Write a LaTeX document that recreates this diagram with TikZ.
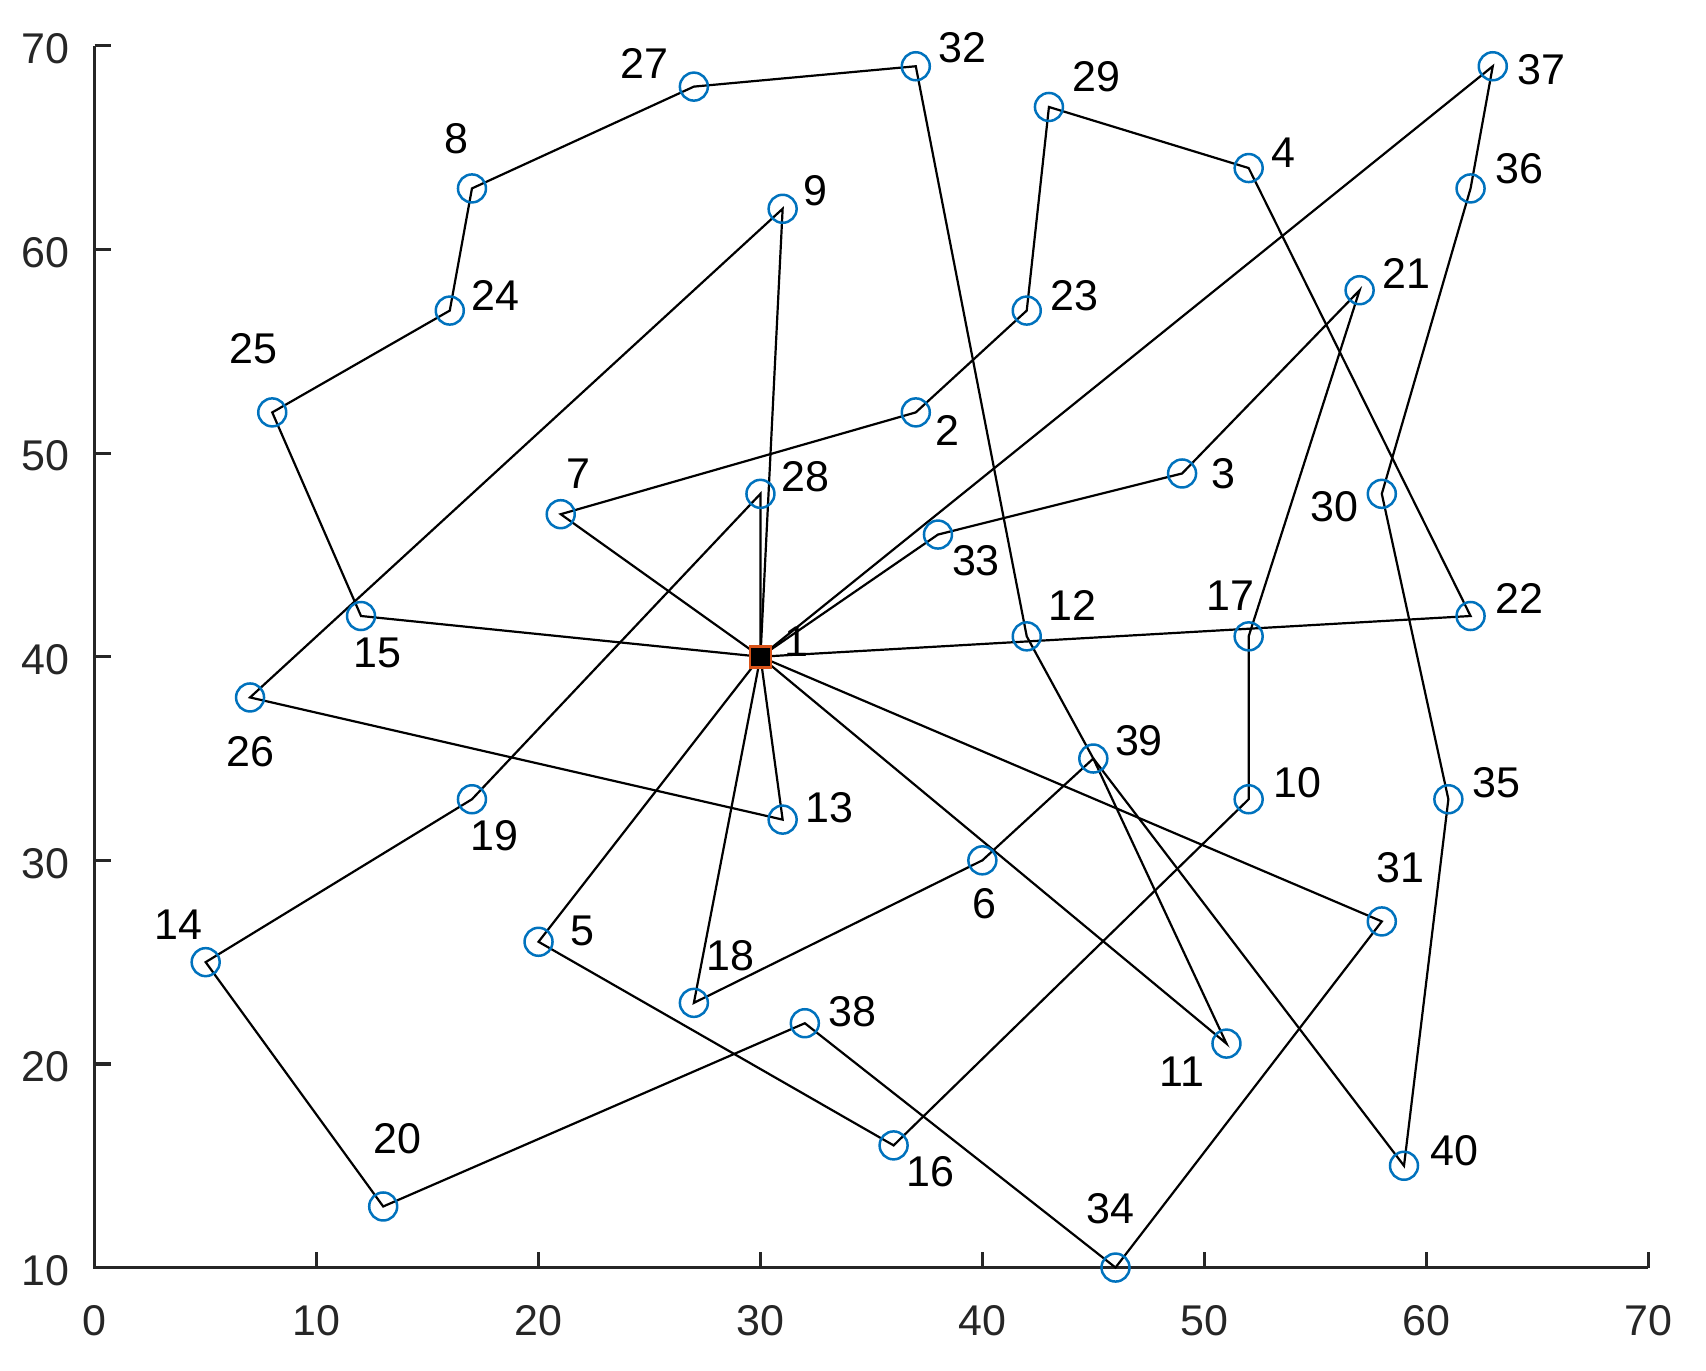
\documentclass[tikz,border=0pt]{standalone}
\usepackage{fontspec}
\setmainfont{Liberation Sans}
\definecolor{mblue}{rgb}{0,0.447,0.741}
\definecolor{morange}{rgb}{0.85,0.325,0.098}
\definecolor{axgray}{rgb}{0.15,0.15,0.15}
\begin{document}
\begin{tikzpicture}[x=11.095pt,y=10.18pt,
  route/.style={line width=1.1pt, black},
  cust/.style={draw=mblue, line width=1.25pt, circle, minimum size=14pt, inner sep=0pt},
  depot/.style={draw=morange, fill=black, line width=1.4pt, rectangle, minimum size=10.5pt, inner sep=0pt},
  lbl/.style={font=\fontsize{21.5}{21.5}\selectfont, text=black, inner sep=0pt},
  tlbl/.style={font=\fontsize{21.5}{21.5}\selectfont, text=axgray, inner sep=0pt},
  axis/.style={line width=1.6pt, axgray}]
\useasboundingbox (-4.268,4.966) rectangle (72.61,72.255);
% positions
\coordinate (p1) at (30,40);
\coordinate (p2) at (37,52);
\coordinate (p3) at (49,49);
\coordinate (p4) at (52,64);
\coordinate (p5) at (20,26);
\coordinate (p6) at (40,30);
\coordinate (p7) at (21,47);
\coordinate (p8) at (17,63);
\coordinate (p9) at (31,62);
\coordinate (p10) at (52,33);
\coordinate (p11) at (51,21);
\coordinate (p12) at (42,41);
\coordinate (p13) at (31,32);
\coordinate (p14) at (5,25);
\coordinate (p15) at (12,42);
\coordinate (p16) at (36,16);
\coordinate (p17) at (52,41);
\coordinate (p18) at (27,23);
\coordinate (p19) at (17,33);
\coordinate (p20) at (13,13);
\coordinate (p21) at (57,58);
\coordinate (p22) at (62,42);
\coordinate (p23) at (42,57);
\coordinate (p24) at (16,57);
\coordinate (p25) at (8,52);
\coordinate (p26) at (7,38);
\coordinate (p27) at (27,68);
\coordinate (p28) at (30,48);
\coordinate (p29) at (43,67);
\coordinate (p30) at (58,48);
\coordinate (p31) at (58,27);
\coordinate (p32) at (37,69);
\coordinate (p33) at (38,46);
\coordinate (p34) at (46,10);
\coordinate (p35) at (61,33);
\coordinate (p36) at (62,63);
\coordinate (p37) at (63,69);
\coordinate (p38) at (32,22);
\coordinate (p39) at (45,35);
\coordinate (p40) at (59,15);
% axes
\coordinate (o) at (0,10);
\coordinate (xe) at (70,10);
\coordinate (ye) at (0,70);
\draw[axis] (ye) -- (o) -- (xe);
\foreach \v in {0,10,...,70} {
  \coordinate (xt\v) at (\v,10);
  \draw[axis] (xt\v) -- ++(0,8pt);
  \path (xt\v) ++(0,-26.5pt) node[tlbl] {\v};
}
\foreach \v in {10,20,...,70} {
  \coordinate (yt\v) at (0,\v);
  \draw[axis] (yt\v) -- ++(8pt,0);
  \path (yt\v) ++(-12.3pt,-1.5pt) node[tlbl,anchor=east] {\v};
}
% routes
\draw[route] (p1)--(p22)--(p4)--(p29)--(p23)--(p2)--(p7)--(p1);
\draw[route] (p1)--(p15)--(p25)--(p24)--(p8)--(p27)--(p32)--(p12)--(p39)--(p11)--(p1);
\draw[route] (p1)--(p18)--(p6)--(p39)--(p40)--(p35)--(p30)--(p36)--(p37)--(p1);
\draw[route] (p1)--(p31)--(p34)--(p38)--(p20)--(p14)--(p19)--(p28)--(p1);
\draw[route] (p1)--(p5)--(p16)--(p10)--(p17)--(p21)--(p3)--(p33)--(p1);
\draw[route] (p1)--(p13)--(p26)--(p9)--(p1);
% markers
\foreach \i in {2,...,40} { \node[cust] (n\i) at (p\i) {}; }
\node[depot] (n1) at (p1) {};
% labels
\path (n1) ++(18pt,7.5pt) node[lbl] {1};
\path (n2) ++(15.8pt,-9.2pt) node[lbl] {2};
\path (n3) ++(20.7pt,0pt) node[lbl] {3};
\path (n4) ++(17.4pt,7.6pt) node[lbl] {4};
\path (n5) ++(21.8pt,5.4pt) node[lbl] {5};
\path (n6) ++(1.1pt,-21.8pt) node[lbl] {6};
\path (n7) ++(8.7pt,20.1pt) node[lbl] {7};
\path (n8) ++(-7.6pt,25pt) node[lbl] {8};
\path (n9) ++(16.3pt,9.2pt) node[lbl] {9};
\path (n10) ++(24.5pt,8.2pt) node[lbl] {10};
\path (n11) ++(-22.3pt,-14.1pt) node[lbl] {11};
\path (n12) ++(22.8pt,15.2pt) node[lbl] {12};
\path (n13) ++(23.4pt,6pt) node[lbl] {13};
\path (n14) ++(-13.6pt,18.5pt) node[lbl] {14};
\path (n15) ++(8.2pt,-18.5pt) node[lbl] {15};
\path (n16) ++(18.5pt,-13.1pt) node[lbl] {16};
\path (n17) ++(-9.2pt,20.1pt) node[lbl] {17};
\path (n18) ++(18.5pt,23.4pt) node[lbl] {18};
\path (n19) ++(11.4pt,-18pt) node[lbl] {19};
\path (n20) ++(7.1pt,33.7pt) node[lbl] {20};
\path (n21) ++(23.4pt,8.2pt) node[lbl] {21};
\path (n22) ++(24.5pt,8.7pt) node[lbl] {22};
\path (n23) ++(23.9pt,7.6pt) node[lbl] {23};
\path (n24) ++(22.8pt,7.6pt) node[lbl] {24};
\path (n25) ++(-9.2pt,31.6pt) node[lbl] {25};
\path (n26) ++(0pt,-27.2pt) node[lbl] {26};
\path (n27) ++(-24.5pt,11.4pt) node[lbl] {27};
\path (n28) ++(22.3pt,8.7pt) node[lbl] {28};
\path (n29) ++(23.9pt,15.2pt) node[lbl] {29};
\path (n30) ++(-23.9pt,-6.5pt) node[lbl] {30};
\path (n31) ++(9.2pt,26.7pt) node[lbl] {31};
\path (n32) ++(23.4pt,9.2pt) node[lbl] {32};
\path (n33) ++(19pt,-13.1pt) node[lbl] {33};
\path (n34) ++(-2.7pt,29.4pt) node[lbl] {34};
\path (n35) ++(23.9pt,8.2pt) node[lbl] {35};
\path (n36) ++(24.5pt,9.8pt) node[lbl] {36};
\path (n37) ++(24.5pt,-1.6pt) node[lbl] {37};
\path (n38) ++(23.9pt,6pt) node[lbl] {38};
\path (n39) ++(22.8pt,8.7pt) node[lbl] {39};
\path (n40) ++(25pt,7.6pt) node[lbl] {40};
\end{tikzpicture}
\end{document}
